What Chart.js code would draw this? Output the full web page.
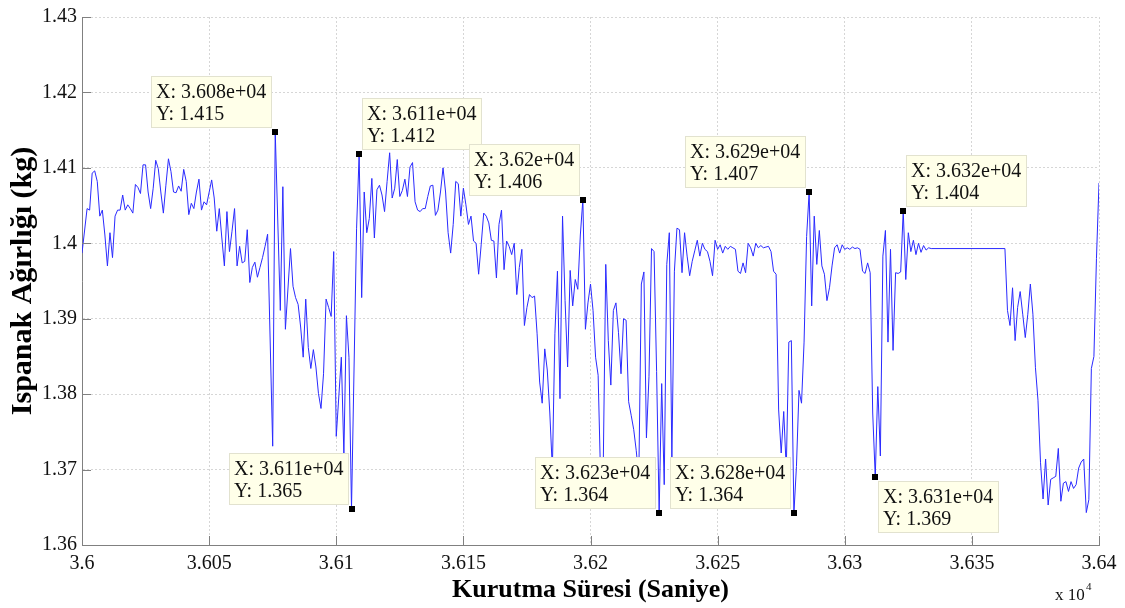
<!DOCTYPE html>
<html>
<head>
<meta charset="utf-8">
<title>Ispanak Ağırlığı</title>
<script src="https://cdn.jsdelivr.net/npm/chart.js@4.4.1/dist/chart.umd.min.js"></script>
<style>
  html, body { margin: 0; padding: 0; background: #fff; }
  #wrap { width: 1125px; height: 608px; }
</style>
</head>
<body>
<div id="wrap"><canvas id="weightChart" width="1125" height="608"></canvas></div>
<script>
// drying time (s) and spinach weight (kg), read sample by sample
var times = [
  36000, 36002, 36003, 36004, 36005, 36006, 36007, 36008, 36009, 36010,
  36011, 36012, 36013, 36014, 36015, 36016, 36017, 36018, 36019, 36020,
  36021, 36022, 36023, 36024, 36025, 36026, 36027, 36028, 36029, 36030,
  36031, 36032, 36033, 36034, 36035, 36036, 36037, 36038, 36039, 36040,
  36041, 36042, 36043, 36044, 36045, 36046, 36047, 36048, 36049, 36051,
  36052, 36053, 36054, 36055, 36056, 36057, 36058, 36059, 36060, 36061,
  36062, 36063, 36064, 36065, 36066, 36067, 36068, 36069, 36070, 36071,
  36072, 36073, 36075, 36076, 36078, 36079, 36080, 36082, 36083, 36084,
  36085, 36086, 36087, 36088, 36089, 36090, 36091, 36092, 36093, 36094,
  36095, 36096, 36097, 36098, 36099, 36100, 36102, 36103, 36104, 36105,
  36106, 36108, 36109, 36110, 36111, 36112, 36113, 36114, 36115, 36116,
  36117, 36118, 36119, 36120, 36121, 36122, 36123, 36124, 36125, 36126,
  36127, 36128, 36129, 36130, 36131, 36132, 36133, 36134, 36135, 36136,
  36137, 36138, 36139, 36140, 36141, 36142, 36143, 36144, 36145, 36146,
  36147, 36148, 36149, 36150, 36151, 36152, 36153, 36154, 36155, 36156,
  36157, 36158, 36159, 36160, 36161, 36162, 36163, 36164, 36165, 36166,
  36167, 36168, 36169, 36170, 36171, 36172, 36173, 36174, 36175, 36176,
  36177, 36178, 36179, 36180, 36181, 36182, 36183, 36184, 36185, 36186,
  36187, 36188, 36189, 36190, 36191, 36192, 36193, 36194, 36195, 36196,
  36197, 36198, 36199, 36200, 36201, 36202, 36203, 36204, 36205, 36206,
  36207, 36208, 36209, 36210, 36211, 36212, 36213, 36214, 36215, 36216,
  36217, 36218, 36219, 36220, 36221, 36222, 36223, 36224, 36225, 36226,
  36227, 36228, 36229, 36230, 36231, 36232, 36233, 36234, 36235, 36236,
  36237, 36238, 36239, 36240, 36241, 36242, 36243, 36244, 36245, 36246,
  36247, 36248, 36249, 36250, 36251, 36252, 36253, 36254, 36255, 36256,
  36257, 36258, 36259, 36260, 36261, 36262, 36263, 36264, 36265, 36266,
  36267, 36268, 36269, 36270, 36271, 36272, 36273, 36274, 36275, 36276,
  36277, 36278, 36279, 36280, 36281, 36282, 36283, 36284, 36285, 36286,
  36287, 36288, 36289, 36290, 36291, 36292, 36293, 36294, 36295, 36296,
  36297, 36298, 36299, 36300, 36301, 36302, 36303, 36304, 36305, 36306,
  36307, 36308, 36309, 36310, 36311, 36312, 36313, 36314, 36315, 36316,
  36317, 36318, 36319, 36320, 36321, 36322, 36323, 36324, 36325, 36326,
  36327, 36328, 36329, 36330, 36331, 36332, 36333, 36334, 36363, 36364,
  36365, 36366, 36367, 36368, 36369, 36370, 36371, 36372, 36373, 36374,
  36375, 36376, 36377, 36378, 36379, 36380, 36381, 36382, 36383, 36384,
  36385, 36386, 36387, 36388, 36389, 36390, 36391, 36392, 36393, 36394,
  36395, 36396, 36397, 36398, 36399, 36400
];
var weights = [
  1.3987, 1.4046, 1.4044, 1.4093, 1.4096, 1.4082, 1.4036, 1.4044, 1.4011, 1.3970,
  1.4014, 1.3981, 1.4036, 1.4044, 1.4044, 1.4064, 1.4044, 1.4051, 1.4046, 1.4040,
  1.4078, 1.4074, 1.4066, 1.4104, 1.4104, 1.4068, 1.4046, 1.4073, 1.4110, 1.4099,
  1.4068, 1.4040, 1.4077, 1.4112, 1.4095, 1.4068, 1.4067, 1.4076, 1.4069, 1.4098,
  1.4082, 1.4038, 1.4053, 1.4046, 1.4068, 1.4085, 1.4044, 1.4055, 1.4051, 1.4084,
  1.4060, 1.4016, 1.4046, 1.4007, 1.3970, 1.4042, 1.3989, 1.4016, 1.4046, 1.3970,
  1.3996, 1.3974, 1.3976, 1.4018, 1.3948, 1.3968, 1.3975, 1.3955, 1.3968, 1.3981,
  1.3996, 1.4012, 1.3731, 1.4148, 1.3911, 1.4075, 1.3886, 1.3993, 1.3943, 1.3928,
  1.3919, 1.3889, 1.3849, 1.3926, 1.3862, 1.3834, 1.3859, 1.3836, 1.3801, 1.3781,
  1.3827, 1.3926, 1.3915, 1.3903, 1.3989, 1.3744, 1.3849, 1.3720, 1.3904, 1.3849,
  1.3648, 1.4020, 1.4118, 1.3928, 1.4068, 1.4014, 1.4033, 1.4086, 1.4007, 1.4071,
  1.4077, 1.4064, 1.4042, 1.4082, 1.4120, 1.4060, 1.4073, 1.4111, 1.4062, 1.4070,
  1.4085, 1.4062, 1.4101, 1.4107, 1.4055, 1.4044, 1.4042, 1.4046, 1.4046, 1.4062,
  1.4076, 1.4077, 1.4037, 1.4044, 1.4068, 1.4100, 1.4068, 1.4014, 1.3987, 1.4025,
  1.4082, 1.4079, 1.4036, 1.4073, 1.4051, 1.4025, 1.4036, 1.4003, 1.4000, 1.3959,
  1.3998, 1.4040, 1.4036, 1.4027, 1.4004, 1.4003, 1.3954, 1.4025, 1.4044, 1.3965,
  1.4003, 1.3996, 1.3985, 1.4000, 1.3932, 1.3968, 1.3992, 1.3891, 1.3915, 1.3932,
  1.3928, 1.3930, 1.3880, 1.3816, 1.3788, 1.3860, 1.3832, 1.3775, 1.3700, 1.3880,
  1.3963, 1.3794, 1.4036, 1.3924, 1.3836, 1.3964, 1.3917, 1.3952, 1.3939, 1.4011,
  1.4058, 1.3886, 1.3921, 1.3946, 1.3911, 1.3849, 1.3825, 1.3685, 1.3700, 1.3972,
  1.3871, 1.3812, 1.3911, 1.3921, 1.3882, 1.3827, 1.3900, 1.3898, 1.3790, 1.3772,
  1.3753, 1.3725, 1.3690, 1.3946, 1.3962, 1.3742, 1.3823, 1.3993, 1.3989, 1.3830,
  1.3642, 1.3814, 1.3680, 1.3972, 1.4014, 1.3713, 1.3963, 1.4020, 1.4018, 1.3961,
  1.4014, 1.3983, 1.3957, 1.3976, 1.3990, 1.4004, 1.3983, 1.4000, 1.3992, 1.3989,
  1.3976, 1.3957, 1.4004, 1.3992, 1.3998, 1.3987, 1.3996, 1.3992, 1.3996, 1.3994,
  1.3992, 1.3963, 1.3960, 1.3974, 1.3961, 1.4000, 1.3994, 1.3983, 1.4000, 1.3994,
  1.3997, 1.3994, 1.3995, 1.3996, 1.3989, 1.3963, 1.3959, 1.3779, 1.3722, 1.3777,
  1.3700, 1.3869, 1.3871, 1.3642, 1.3704, 1.3805, 1.3788, 1.3869, 1.4009, 1.4068,
  1.3917, 1.4036, 1.3972, 1.4017, 1.3970, 1.3959, 1.3924, 1.3941, 1.3970, 1.3994,
  1.3998, 1.3987, 1.3998, 1.3992, 1.3994, 1.3992, 1.3995, 1.3993, 1.3994, 1.3992,
  1.3963, 1.3960, 1.3974, 1.3961, 1.3775, 1.3690, 1.3810, 1.3718, 1.3983, 1.4017,
  1.3869, 1.3992, 1.3858, 1.3961, 1.3960, 1.3962, 1.4043, 1.3952, 1.4014, 1.3989,
  1.4004, 1.3985, 1.4000, 1.3988, 1.3997, 1.3991, 1.3994, 1.3993, 1.3993, 1.3911,
  1.3891, 1.3941, 1.3871, 1.3915, 1.3936, 1.3906, 1.3875, 1.3906, 1.3946, 1.3906,
  1.3835, 1.3792, 1.3709, 1.3661, 1.3714, 1.3653, 1.3687, 1.3689, 1.3691, 1.3728,
  1.3658, 1.3682, 1.3684, 1.3671, 1.3684, 1.3675, 1.3680, 1.3702, 1.3710, 1.3714,
  1.3643, 1.3660, 1.3834, 1.3850, 1.3980, 1.4080
];

var xTickValues = [36000, 36050, 36100, 36150, 36200, 36250, 36300, 36350, 36400];
var xTickLabels = ["3.6", "3.605", "3.61", "3.615", "3.62", "3.625", "3.63", "3.635", "3.64"];
var yTickValues = [1.36, 1.37, 1.38, 1.39, 1.40, 1.41, 1.42, 1.43];
var yTickLabels = ["1.36", "1.37", "1.38", "1.39", "1.4", "1.41", "1.42", "1.43"];

// data tips: marked sample time, and which side of the marker the box sits on
var tipTimes = [36076, 36109, 36197, 36286, 36323, 36106, 36227, 36280, 36312];
var tipSides = ["nw", "ne", "nw", "nw", "ne", "nw", "nw", "nw", "se"];

var serif = "'Liberation Serif', 'Times New Roman', serif";

function fmtX(t) {
  var exp = Math.floor(Math.log10(t));
  var mant = (t / Math.pow(10, exp)).toFixed(3).replace(/0+$/, "").replace(/\.$/, "");
  return mant + "e+" + (exp < 10 ? "0" + exp : exp);
}

function fmtY(v) {
  return String(parseFloat(v.toPrecision(4)));
}

var points = times.map(function (t, i) {
  return { x: t, y: weights[i] };
});

// white page behind the plot
var background = {
  id: "background",
  beforeDraw: function (chart) {
    var ctx = chart.ctx;
    ctx.save();
    ctx.fillStyle = "#fff";
    ctx.fillRect(0, 0, chart.width, chart.height);
    ctx.restore();
  }
};

// inward tick marks and the x 10^4 multiplier
var axisMarks = {
  id: "axisMarks",
  afterDatasetsDraw: function (chart) {
    var ctx = chart.ctx, area = chart.chartArea;
    var xs = chart.scales.x, ys = chart.scales.y;
    ctx.save();
    ctx.strokeStyle = "#808080";
    ctx.lineWidth = 1;
    ctx.beginPath();
    xTickValues.forEach(function (v) {
      var px = Math.round(xs.getPixelForValue(v)) + 0.5;
      ctx.moveTo(px, area.bottom);
      ctx.lineTo(px, area.bottom - 9);
    });
    yTickValues.forEach(function (v) {
      var py = Math.round(ys.getPixelForValue(v)) + 0.5;
      ctx.moveTo(area.left, py);
      ctx.lineTo(area.left + 9, py);
    });
    ctx.stroke();

    ctx.fillStyle = "#111";
    ctx.textBaseline = "alphabetic";
    ctx.font = "17px " + serif;
    ctx.fillText("x 10", area.right - 44, 600);
    ctx.font = "11px " + serif;
    ctx.fillText("4", area.right - 13, 590);
    ctx.restore();
  }
};

// yellow data tip boxes with the marked sample values
var dataTips = {
  id: "dataTips",
  afterDatasetsDraw: function (chart) {
    var ctx = chart.ctx;
    var xs = chart.scales.x, ys = chart.scales.y;
    ctx.save();
    ctx.font = "20px " + serif;
    ctx.textBaseline = "alphabetic";
    tipTimes.forEach(function (t, k) {
      var v = weights[times.indexOf(t)];
      var px = xs.getPixelForValue(t);
      var py = ys.getPixelForValue(v);
      var line1 = "X: " + fmtX(t);
      var line2 = "Y: " + fmtY(v);
      var w = Math.ceil(Math.max(ctx.measureText(line1).width, ctx.measureText(line2).width)) + 10;
      var h = 52;
      var side = tipSides[k];
      var bx = Math.round(side.charAt(1) === "w" ? px - 3 - w : px + 3);
      var by = Math.round(side.charAt(0) === "n" ? py - 4 - h : py + 4);

      ctx.fillStyle = "#ffffe9";
      ctx.fillRect(bx, by, w, h);
      ctx.strokeStyle = "#e2e2cf";
      ctx.lineWidth = 1;
      ctx.strokeRect(bx + 0.5, by + 0.5, w - 1, h - 1);

      ctx.fillStyle = "#111";
      ctx.fillText(line1, bx + 5, by + 22);
      ctx.fillText(line2, bx + 5, by + 43.5);

      ctx.fillStyle = "#000";
      ctx.fillRect(Math.round(px) - 3, Math.round(py) - 3, 6, 6);
    });
    ctx.restore();
  }
};

var ctx = document.getElementById("weightChart").getContext("2d");
var weightChart = new Chart(ctx, {
  type: "line",
  data: {
    datasets: [
      {
        data: points,
        borderColor: "#2a2aff",
        borderWidth: 1,
        pointRadius: 0,
        tension: 0,
        fill: false
      }
    ]
  },
  options: {
    responsive: false,
    animation: false,
    devicePixelRatio: 1,
    layout: { padding: { top: 15, right: 26, left: 0, bottom: 0 } },
    plugins: {
      legend: { display: false },
      tooltip: { enabled: false }
    },
    scales: {
      x: {
        type: "linear",
        min: 36000,
        max: 36400,
        afterBuildTicks: function (axis) {
          axis.ticks = xTickValues.map(function (v) { return { value: v }; });
        },
        afterFit: function (axis) { axis.height = 63; },
        ticks: {
          autoSkip: false,
          maxRotation: 0,
          padding: 7,
          color: "#111",
          font: { family: serif, size: 20 },
          callback: function (value, index) { return xTickLabels[index]; }
        },
        grid: { color: "#d6d6d6", drawTicks: false },
        border: { color: "#808080", dash: [2, 2] },
        title: {
          display: true,
          text: "Kurutma Süresi (Saniye)",
          color: "#000",
          font: { family: serif, size: 26, weight: "bold" },
          padding: { top: 0, bottom: 2 }
        }
      },
      y: {
        min: 1.36,
        max: 1.43,
        afterBuildTicks: function (axis) {
          axis.ticks = yTickValues.map(function (v) { return { value: v }; });
        },
        afterFit: function (axis) { axis.width = 82; },
        ticks: {
          padding: 5,
          color: "#111",
          font: { family: serif, size: 20 },
          callback: function (value, index) { return yTickLabels[index]; }
        },
        grid: { color: "#d6d6d6", drawTicks: false },
        border: { color: "#808080", dash: [2, 2] },
        title: {
          display: true,
          text: "Ispanak Ağırlığı (kg)",
          color: "#000",
          font: { family: serif, size: 30, weight: "bold" },
          padding: { top: 5, bottom: 0 }
        }
      }
    }
  },
  plugins: [background, axisMarks, dataTips]
});
</script>
</body>
</html>
